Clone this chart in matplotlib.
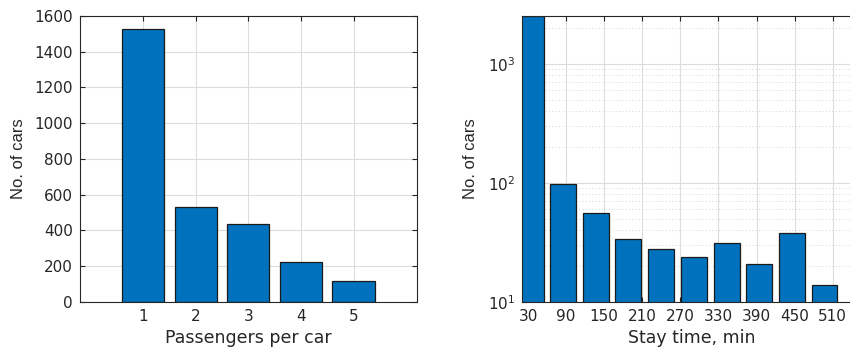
import matplotlib
matplotlib.use("Agg")
import matplotlib.pyplot as plt
from matplotlib.ticker import LogLocator, NullFormatter

plt.rcParams["font.family"] = ["DejaVu Sans"]

# left panel: passengers per car
passengers = [1, 2, 3, 4, 5]
cars_by_pass = [1525, 533, 436, 225, 119]

# right panel: stay time histogram (bin centres, minutes)
stay_centres = [34, 85, 137, 188, 240, 291, 343, 394, 446, 497]
cars_by_stay = [2520, 97, 55.5, 34, 28, 24, 31, 21, 38, 14]
stay_ticks = [30, 90, 150, 210, 270, 330, 390, 450, 510]

BLUE = "#0072BD"
DARK = "#262626"
GRID = "#dcdcdc"
YLAB = dict(fontsize=12, color=DARK, family="Liberation Sans")
XLAB = dict(fontsize=12.5, color=DARK)

fig = plt.figure(figsize=(8.5, 3.47), dpi=100)


def style(ax):
    ax.tick_params(direction="in", top=True, right=True, colors=DARK,
                   labelsize=11, length=3.5, width=0.8, pad=5)
    ax.tick_params(which="minor", direction="in", right=True, length=2, width=0.6, colors=DARK)
    for s in ax.spines.values():
        s.set_color(DARK)
        s.set_linewidth(0.8)
    ax.set_axisbelow(True)


# ---------- left ----------
ax1 = fig.add_axes([0.0941, 0.1297, 0.3961, 0.8242])
ax1.bar(passengers, cars_by_pass, width=0.8, color=BLUE, edgecolor="#1a1a1a", linewidth=0.9)
ax1.set_xlim(-0.2, 6.2)
ax1.set_ylim(0, 1600)
ax1.set_xticks(passengers)
ax1.set_yticks(range(0, 1601, 200))
ax1.grid(True, color=GRID, lw=0.8)
style(ax1)
ax1.set_xlabel("Passengers per car", labelpad=4, **XLAB)
ax1.set_ylabel("No. of cars", labelpad=6, **YLAB)

# ---------- right ----------
ax2 = fig.add_axes([0.6141, 0.1297, 0.40, 0.8242])
ax2.bar(stay_centres, cars_by_stay, width=0.8 * (stay_centres[1] - stay_centres[0]),
        color=BLUE, edgecolor="#1a1a1a", linewidth=0.9)
ax2.set_yscale("log")
ax2.set_xlim(20.5, 556)
ax2.set_ylim(10, max(cars_by_stay))
ax2.set_xticks(stay_ticks)
ax2.yaxis.set_major_locator(LogLocator(base=10, numticks=10))
ax2.yaxis.set_minor_locator(LogLocator(base=10, subs=range(2, 10), numticks=20))
ax2.yaxis.set_minor_formatter(NullFormatter())
ax2.grid(True, which="major", color=GRID, lw=0.8)
ax2.grid(True, which="minor", axis="y", color="#c8c8c8", ls=(0, (1, 3)), lw=0.6)
style(ax2)
ax2.set_xlabel("Stay time, min", labelpad=4, **XLAB)
ax2.set_ylabel("No. of cars", labelpad=7, **YLAB)

fig.savefig("out.png", dpi=100)
